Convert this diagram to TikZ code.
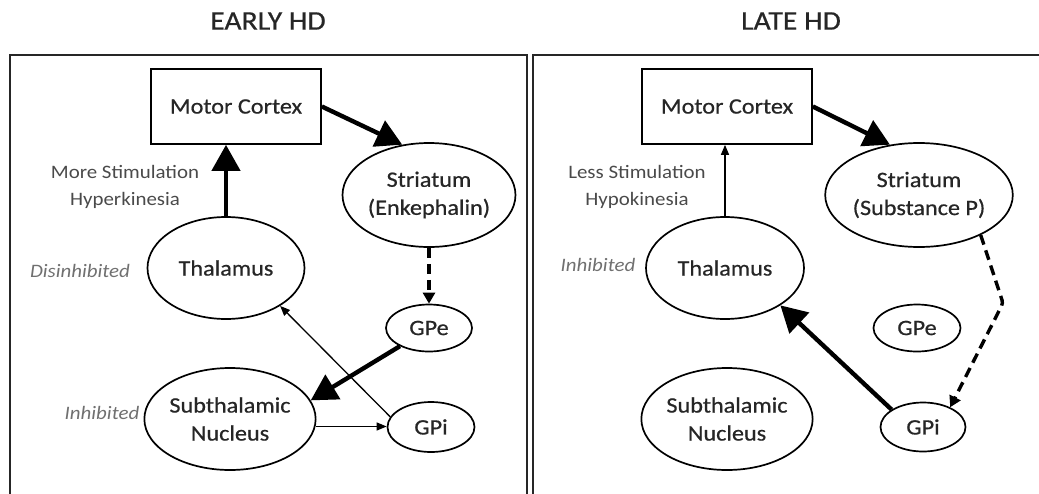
\documentclass[tikz,border=0pt]{standalone}
\usepackage{fontspec}
\setmainfont{Carlito}[FakeStretch=1.1]
\newfontfamily\nodefont{Carlito}[FakeStretch=1.1, FakeBold=0.6]
\usetikzlibrary{shapes.geometric,arrows.meta}
\definecolor{txt}{HTML}{262626}
\definecolor{lbl}{HTML}{4A4A4A}
\definecolor{ital}{HTML}{707070}
\tikzset{
  frame/.style={line width=2pt, draw=black!85},
  oval/.style={ellipse, draw, line width=1.7pt, inner sep=0pt, text=txt, align=center,
    font=\nodefont\fontsize{22}{28}\selectfont},
  boxnode/.style={rectangle, draw, line width=1.7pt, inner sep=0pt, text=txt,
    minimum width=170pt, minimum height=75pt, font=\nodefont\fontsize{22}{26}\selectfont},
  title/.style={text=txt, font=\nodefont\fontsize{27}{30}\selectfont},
  side/.style={text=lbl, align=center, font=\fontsize{19}{27}\selectfont},
  state/.style={text=ital, font=\fontsize{19}{22}\selectfont\itshape},
  thick arrow/.style={line width=4.4pt, -{Triangle[length=26pt,width=28pt]}},
  thin arrow/.style={line width=1.3pt, -{Triangle[length=10pt,width=8pt]}},
  dash arrow/.style={line width=3.4pt, dash pattern=on 10pt off 6pt, -{Triangle[length=11pt,width=12pt]}},
}
\begin{document}
\begin{tikzpicture}[x=1pt,y=-1pt]
\useasboundingbox (0,0) rectangle (1039,493);
% frames
\draw[frame] (10,495) -- (10,55) -- (527,55) -- (527,495);
\draw[frame] (533,495) -- (533,55) -- (1041,55);
% titles
\node[title] (t1) at (268,21) {EARLY HD};
\node[title] (t2) at (791,21) {LATE HD};

% ---------- EARLY HD ----------
\node[boxnode] (mc1) at (236,106.5) {Motor Cortex};
\node[oval, minimum width=160pt, minimum height=104pt] (str1) at (429,195) {Striatum\\(Enkephalin)};
\node[oval, minimum width=157pt, minimum height=102pt] (thal1) at (226,268) {Thalamus};
\node[oval, minimum width=86pt, minimum height=47pt] (gpe1) at (429,328) {GPe};
\node[oval, minimum width=87pt, minimum height=50pt] (gpi1) at (431,427) {GPi};
\node[oval, minimum width=156pt, minimum height=102pt] (stn1) at (230,419) {Subthalamic\\Nucleus};
\node[side] (lab1) at (125,187) {More Stimulation\\Hyperkinesia};
\node[state] (s1) at (80,271) {Disinhibited};
\node[state] (s2) at (102,413) {Inhibited};

\draw[thick arrow] (mc1.east) -- (str1.118);
\draw[thick arrow] (thal1.north) -- (thal1.north |- mc1.south);
\draw[dash arrow] (str1.south) -- (gpe1.north);
\draw[thick arrow] (gpe1.-148) -- (stn1.13);
\draw[thin arrow] (gpi1.166) -- (thal1.-35);
\draw[thin arrow] (stn1.-5) -- (stn1.-5 -| gpi1.west);

% ---------- LATE HD ----------
\node[boxnode] (mc2) at (727,106.5) {Motor Cortex};
\node[oval, minimum width=157pt, minimum height=104pt] (str2) at (919,195) {Striatum\\(Substance P)};
\node[oval, minimum width=158pt, minimum height=102pt] (thal2) at (725,268) {Thalamus};
\node[oval, minimum width=87pt, minimum height=47pt] (gpe2) at (917,328) {GPe};
\node[oval, minimum width=85pt, minimum height=49pt] (gpi2) at (923,427) {GPi};
\node[oval, minimum width=157pt, minimum height=102pt] (stn2) at (727,419) {Subthalamic\\Nucleus};
\node[side] (lab2) at (637,187) {Less Stimulation\\Hypokinesia};
\node[state] (s3) at (598,265) {Inhibited};
\coordinate (bend) at (1003,303);

\draw[thick arrow] (mc2.east) -- (str2.120);
\draw[thin arrow] (thal2.north) -- (thal2.north |- mc2.south);
\draw[dash arrow, rounded corners=3pt] (str2.-33) -- (bend) -- (gpi2.36);
\draw[thick arrow] (gpi2.151) -- (thal2.-34);
\end{tikzpicture}
\end{document}
